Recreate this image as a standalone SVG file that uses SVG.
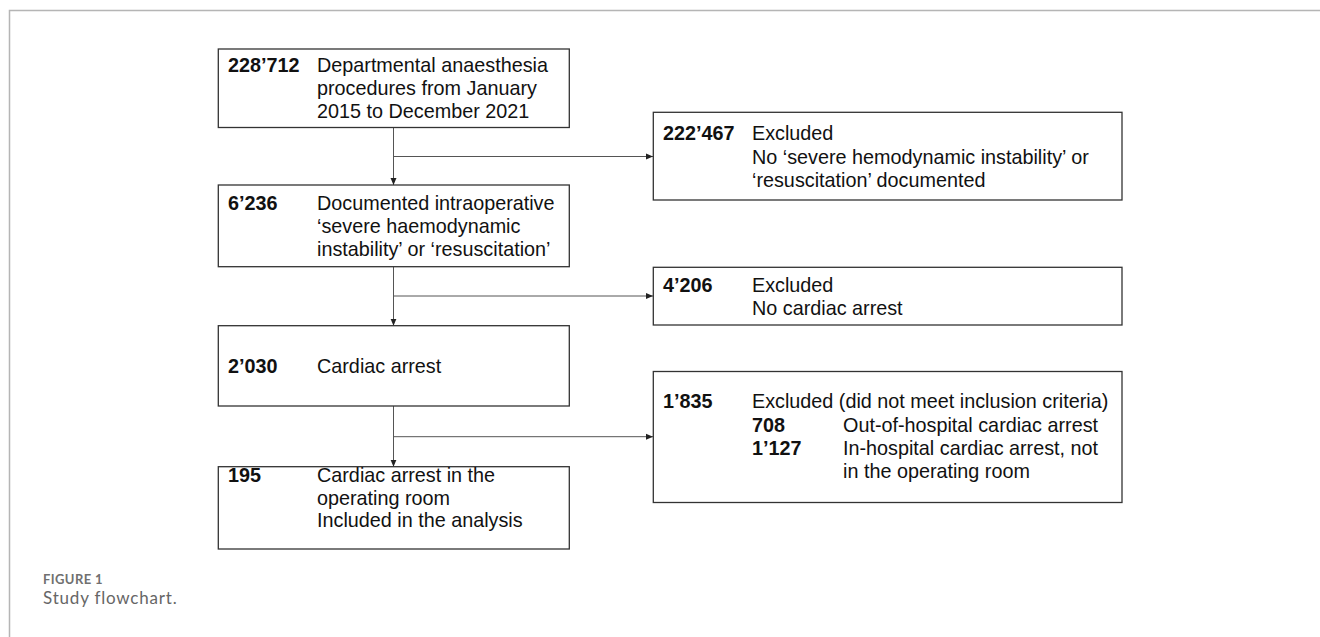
<svg xmlns="http://www.w3.org/2000/svg" width="1320" height="637" viewBox="0 0 1320 637">
<defs>
<marker id="arr" markerWidth="8" markerHeight="8" refX="7" refY="4" orient="auto" markerUnits="userSpaceOnUse">
<path d="M0,1 L7,4 L0,7 Z" fill="#222"/>
</marker>
<style>
.box{fill:#fff;stroke:#333;stroke-width:1.3}
.t{font-family:"Liberation Sans",Arial,sans-serif;font-size:19.8px;fill:#111}
.b{font-weight:bold}
.con{fill:none;stroke:#555;stroke-width:1}
.frame{fill:none;stroke:#b5b5b5;stroke-width:1.5}
.cap1{font-family:"Lato","Open Sans",sans-serif;font-size:13px;font-weight:bold;fill:#707070;letter-spacing:0.4px}
.cap2{font-family:"Lato","Open Sans",sans-serif;font-size:17px;fill:#666;letter-spacing:0.8px}
</style>
</defs>
<rect width="1320" height="637" fill="#fff"/>
<path class="frame" d="M9.5,637 L9.5,10.5 L1320,10.5"/>

<g id="connectors">
<path class="con" d="M393.5,127.5 L393.5,185" marker-end="url(#arr)"/>
<path class="con" d="M393.5,156.5 L653,156.5" marker-end="url(#arr)"/>
<path class="con" d="M393.5,266.7 L393.5,325.7" marker-end="url(#arr)"/>
<path class="con" d="M393.5,296 L653,296" marker-end="url(#arr)"/>
<path class="con" d="M393.5,406 L393.5,466.7" marker-end="url(#arr)"/>
<path class="con" d="M393.5,436.7 L653,436.7" marker-end="url(#arr)"/>
</g>

<g id="n1">
<rect class="box" x="218.3" y="49" width="351" height="78.5"/>
<text class="t b" x="228" y="71.7">228’712</text>
<text class="t" x="317" y="71.7">Departmental anaesthesia</text>
<text class="t" x="317" y="95">procedures from January</text>
<text class="t" x="317" y="118.3">2015 to December 2021</text>
</g>

<g id="n2">
<rect class="box" x="218.3" y="185" width="351" height="81.7"/>
<text class="t b" x="228" y="210">6’236</text>
<text class="t" x="317" y="210">Documented intraoperative</text>
<text class="t" x="317" y="233">‘severe haemodynamic</text>
<text class="t" x="317" y="256.3">instability’ or ‘resuscitation’</text>
</g>

<g id="n3">
<rect class="box" x="218.3" y="325.7" width="351" height="80.3"/>
<text class="t b" x="228" y="373.3">2’030</text>
<text class="t" x="317" y="373.3">Cardiac arrest</text>
</g>

<g id="n4">
<rect class="box" x="218.3" y="466.7" width="351" height="82.3"/>
<text class="t b" x="228" y="482">195</text>
<text class="t" x="317" y="482">Cardiac arrest in the</text>
<text class="t" x="317" y="504.5">operating room</text>
<text class="t" x="317" y="527">Included in the analysis</text>
</g>

<g id="e1">
<rect class="box" x="653.3" y="112.3" width="468.7" height="87.7"/>
<text class="t b" x="663" y="140">222’467</text>
<text class="t" x="752" y="140">Excluded</text>
<text class="t" x="752" y="164">No ‘severe hemodynamic instability’ or</text>
<text class="t" x="752" y="186.7">‘resuscitation’ documented</text>
</g>

<g id="e2">
<rect class="box" x="653.3" y="267.3" width="468.7" height="57.7"/>
<text class="t b" x="663" y="291.7">4’206</text>
<text class="t" x="752" y="291.7">Excluded</text>
<text class="t" x="752" y="315">No cardiac arrest</text>
</g>

<g id="e3">
<rect class="box" x="653.3" y="371.5" width="468.7" height="131"/>
<text class="t b" x="663" y="408.3">1’835</text>
<text class="t" x="752" y="408.3">Excluded (did not meet inclusion criteria)</text>
<text class="t b" x="752" y="431.7">708</text>
<text class="t" x="843" y="431.7">Out-of-hospital cardiac arrest</text>
<text class="t b" x="752" y="455">1’127</text>
<text class="t" x="843" y="455">In-hospital cardiac arrest, not</text>
<text class="t" x="843" y="478">in the operating room</text>
</g>

<g id="caption">
<text class="cap1" x="43" y="583.5">FIGURE 1</text>
<text class="cap2" x="43" y="604">Study flowchart.</text>
</g>
</svg>
